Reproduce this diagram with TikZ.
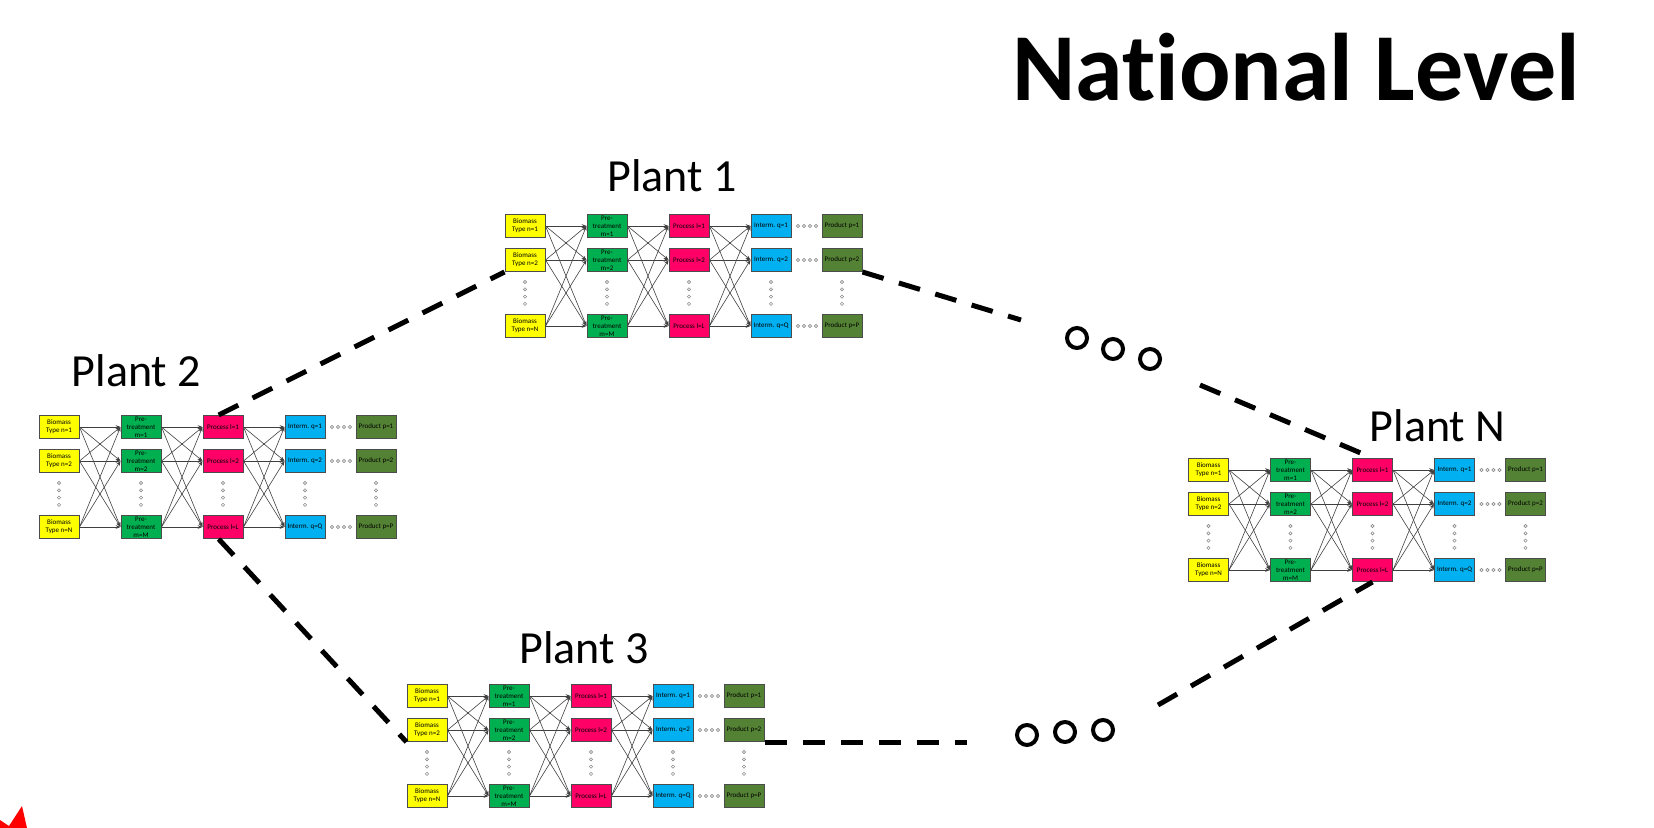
\documentclass[tikz,border=0pt]{standalone}
\usepackage{fontspec}
\setmainfont{Carlito}[Ligatures=NoCommon]
\usetikzlibrary{arrows.meta,calc,positioning}
\definecolor{biomassyellow}{HTML}{FFFF00}
\definecolor{pretreatgreen}{HTML}{00B050}
\definecolor{processpink}{HTML}{FF0066}
\definecolor{intermblue}{HTML}{00B0F0}
\definecolor{productolive}{HTML}{548235}
\tikzset{stagebox/.style={
        draw=black!70,
        line width=0.5pt,
        minimum width=20pt,
        minimum height=11.5pt,
        inner sep=0pt,
        align=center,
        font=\fontsize{3.5}{3.9}\selectfont,
    },
    biomass/.style={stagebox, fill=biomassyellow},
    pretreat/.style={stagebox, fill=pretreatgreen},
    process/.style={stagebox, fill=processpink},
    interm/.style={stagebox, fill=intermblue},
    product/.style={stagebox, fill=productolive},
    flow/.style={-{Stealth[length=2.4pt,width=1.8pt]}, line width=0.3pt, black!75},
    smalldot/.style={draw=black!45, line width=0.3pt},
    link/.style={line width=2.5pt, dash pattern=on 11pt off 8pt},
    ring/.style={draw, circle, line width=2pt, minimum size=10pt, inner sep=0pt},
    plantname/.style={font=\fontsize{23}{26}\selectfont, anchor=base},
}

% one plant: #1 name, #2/#3 centre of the first biomass box
\newcommand{\plantnet}[3]{%
  \foreach \r/\dy/\idn/\idm/\idl/\idq/\idp in {1/0/1/1/1/1/1, 2/34/2/2/2/2/2, 3/100/N/M/L/Q/P}{
    \node[biomass] (#1b\r) at (#2,{#3+\dy}) {Biomass\\Type n=\idn};
    \node[pretreat] (#1m\r) [right=of #1b\r] {Pre-\\treatment\\m=\idm};
    \node[process] (#1l\r) [right=of #1m\r] {Process l=\idl};
    \node[interm] (#1q\r) [right=of #1l\r] {Interm. q=\idq};
    \node[product] (#1p\r) [right=35.5pt of #1q\r] {Product p=\idp};
    \foreach \k in {0,...,3}
      \draw[smalldot] ($(#1q\r.east)+(6.5+6*\k,0)$) circle[radius=0.8pt];
  }
  \foreach \c in {b,m,l,q,p}
    \foreach \k in {0,...,3}
      \draw[smalldot] ($(#1\c2)+(0,22+7.3*\k)$) circle[radius=0.8pt];
  \foreach \i in {1,2,3}
    \foreach \j in {1,2,3}{
      \draw[flow] (#1b\i.east) -- (#1m\j.west);
      \draw[flow] (#1m\i.east) -- (#1l\j.west);
      \draw[flow] (#1l\i.east) -- (#1q\j.west);
    }
}

\begin{document}
\begin{tikzpicture}[x=0.5pt,y=-0.5pt,node distance=17pt and 41pt,on grid]
  \useasboundingbox (0,0) rectangle (1654,828);
  \node[font=\fontsize{48}{52}\selectfont\bfseries, anchor=base] (title) at (1296,101) {National Level};

  \plantnet{p1}{525}{226}
  \plantnet{p2}{59}{427}
  \plantnet{p3}{427}{696}
  \plantnet{pN}{1208.5}{470}

  \node[plantname] (p1name) at (672,192) {Plant 1};
  \node[plantname] (p2name) at (136.5,387) {Plant 2};
  \node[plantname] (p3name) at (584,663) {Plant 3};
  \node[plantname] (pNname) at (1437.5,442) {Plant N};

  % more plants in between
  \node[ring] (upper1) at (1077,338) {};
  \node[ring] (upper2) at (1113,349) {};
  \node[ring] (upper3) at (1150,359) {};
  \node[ring] (lower1) at (1027,735) {};
  \node[ring] (lower2) at (1065,732) {};
  \node[ring] (lower3) at (1103,730) {};
  \coordinate (upperstop) at (1021,320);
  \coordinate (uppergo) at (1200,385);
  \coordinate (lowerstop) at (967,742);
  \coordinate (lowergo) at (1158,705);

  \draw[link] (p2l1.110) -- (p1b2.south west);
  \draw[link] (p2l3.250) -- (p3b2.south west);
  \draw[link] (p1p2.south east) -- (upperstop);
  \draw[link] (uppergo) -- (pNl1.north);
  \draw[link] (p3p2.south east) -- (lowerstop);
  \draw[link] (lowergo) -- (pNl3.south);

  \fill[red] (0,820) -- (9,826) -- (22,806) -- (27,828) -- (0,828) -- cycle;
\end{tikzpicture}
\end{document}
